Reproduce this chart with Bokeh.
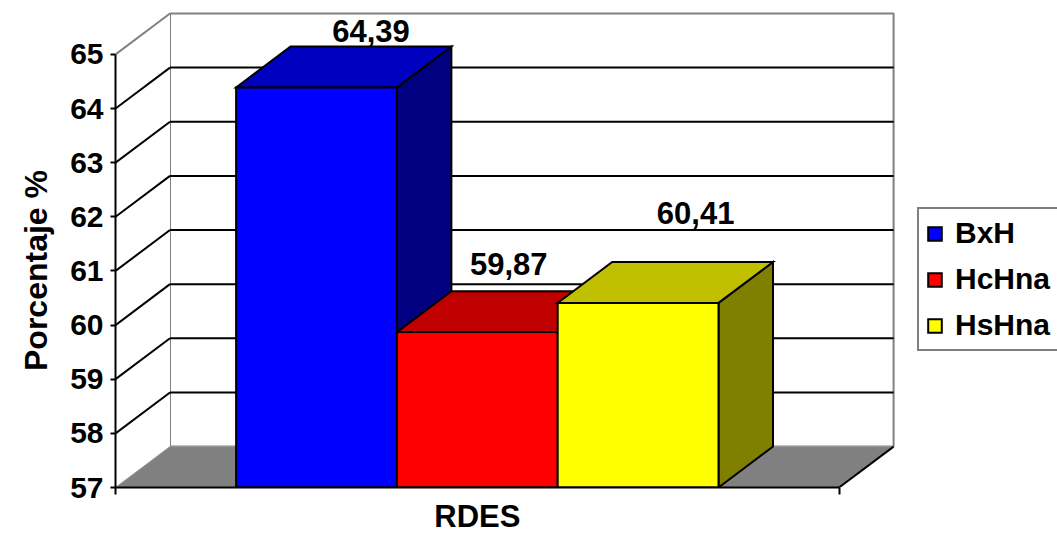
from bokeh.plotting import figure
from bokeh.models import ColumnDataSource, Legend, LegendItem, FixedTicker, Range1d, Title
from bokeh.core.properties import value
from bokeh.embed import file_html
from bokeh.resources import INLINE

# ---- data ----
category = "RDES"
y_title = "Porcentaje %"
series = ["BxH", "HcHna", "HsHna"]
percentages = [64.39, 59.87, 60.41]
value_labels = ["64,39", "59,87", "60,41"]
y_ticks = [57, 58, 59, 60, 61, 62, 63, 64, 65]

# ---- styling ----
front_colors = ["#0000FF", "#FF0000", "#FFFF00"]
top_colors = ["#0000C0", "#C00000", "#C0C000"]
side_colors = ["#000080", "#800000", "#808000"]
FONT_NAME = "Liberation Sans"
FONT = value(FONT_NAME)

W, H = 1057, 536
BORDER_L, BORDER_T, BORDER_B = 115, 5, 48
PX_PER_Y = 54.25          # pixels per percentage point
PX_PER_X = 160.8          # pixels per bar width
DEPTH_PX = (54.5, 41.0)   # oblique depth of the 3-D box, in pixels
GAP = 0.75                # space between axis and first bar, in bar widths
label_shift_px = [(0, -16), (-23, -27), (3, -49)]
# approximate rendered length of the two axis titles (bold, 31/32 px)
X_TITLE_LEN, Y_TITLE_LEN = 86, 201

n = len(percentages)
x_span = 2 * GAP + n      # width of the front plane
y0, y1 = y_ticks[0], y_ticks[-1]
DX = DEPTH_PX[0] / PX_PER_X
DY = DEPTH_PX[1] / PX_PER_Y
frame_w = W - BORDER_L
frame_h = H - BORDER_T - BORDER_B

p = figure(
    width=W, height=H,
    x_range=Range1d(0, frame_w / PX_PER_X),
    y_range=Range1d(y0, y0 + frame_h / PX_PER_Y),
    output_backend="svg", toolbar_location=None,
    min_border_left=BORDER_L, min_border_right=0,
    min_border_top=BORDER_T, min_border_bottom=BORDER_B,
)
p.outline_line_color = None
p.grid.visible = False
p.background_fill_color = "white"
p.border_fill_color = "white"

# ---- walls and floor ----
p.quad(left=DX, right=x_span + DX, bottom=y0 + DY, top=y1 + DY,
       fill_color="white", line_color="#808080", line_width=2)
p.patch([0, DX, DX, 0], [y0, y0 + DY, y1 + DY, y1],
        fill_color="white", line_color=None)
p.segment(x0=[0], y0=[y1], x1=[DX], y1=[y1 + DY], line_color="#808080", line_width=2)
p.patch([0, x_span, x_span + DX, DX], [y0, y0, y0 + DY, y0 + DY],
        fill_color="#808080", line_color="#9a9a9a", line_width=1)
p.segment(x0=[x_span], y0=[y0], x1=[x_span + DX], y1=[y0 + DY],
          line_color="black", line_width=2)

# gridlines: diagonal on the side wall, horizontal on the back wall
levels = y_ticks[1:-1]
p.segment(x0=[0] * len(levels), y0=levels,
          x1=[DX] * len(levels), y1=[v + DY for v in levels],
          line_color="black", line_width=2)
p.segment(x0=[DX] * len(levels), y0=[v + DY for v in levels],
          x1=[x_span + DX] * len(levels), y1=[v + DY for v in levels],
          line_color="black", line_width=2)

# ---- 3-D bars ----
lefts = [GAP + i for i in range(n)]
rights = [l + 1 for l in lefts]
xs, ys, colors = [], [], []
for l, r, v, tc, sc in zip(lefts, rights, percentages, top_colors, side_colors):
    xs.append([r, r + DX, r + DX, r]);  ys.append([y0, y0 + DY, v + DY, v]); colors.append(sc)
    xs.append([l, r, r + DX, l + DX]);  ys.append([v, v, v + DY, v + DY]);   colors.append(tc)
p.patches(xs=xs, ys=ys, fill_color=colors, line_color="black", line_width=2,
          line_join="miter")

bars = ColumnDataSource(dict(left=lefts, right=rights, top=percentages,
                             bottom=[y0] * n, color=front_colors, name=series))
front = p.quad(left="left", right="right", top="top", bottom="bottom", source=bars,
               fill_color="color", line_color="black", line_width=2, line_join="miter")

labels = ColumnDataSource(dict(
    x=[l + 0.5 + DX for l in lefts],
    y=[v + DY for v in percentages],
    text=value_labels,
    xo=[s[0] for s in label_shift_px],
    yo=[s[1] for s in label_shift_px],
))
p.text(x="x", y="y", text="text", x_offset="xo", y_offset="yo", source=labels,
       text_font=FONT, text_font_style="bold", text_font_size="31px",
       text_align="center", text_baseline="middle", text_color="black")

# ---- axes ----
yax = p.yaxis[0]
yax.ticker = FixedTicker(ticks=y_ticks)
yax.bounds = (y0, y1)
yax.axis_line_width = 2
yax.major_tick_line_width = 2
yax.major_tick_out = 5
yax.major_tick_in = 0
yax.minor_tick_line_color = None
yax.major_label_standoff = 7
yax.major_label_text_font = FONT_NAME
yax.major_label_text_font_style = "bold"
yax.major_label_text_font_size = "30px"
yax.major_label_text_color = "black"

xax = p.xaxis[0]
xax.ticker = FixedTicker(ticks=[0, x_span])
xax.bounds = (0, x_span)
xax.axis_line_width = 2
xax.major_tick_line_width = 2
xax.major_tick_out = 7
xax.major_tick_in = 0
xax.minor_tick_line_color = None
xax.major_label_overrides = {0: "", x_span: ""}
xax.major_label_standoff = 0

# axis titles, centred on the drawn extent of each axis
axis_mid_x = x_span * PX_PER_X / 2                 # from frame left
axis_mid_y = (y1 - y0) * PX_PER_Y / 2              # from frame bottom
p.add_layout(Title(
    text=category, align="left", offset=axis_mid_x - X_TITLE_LEN / 2, standoff=5,
    text_font=FONT_NAME, text_font_style="bold", text_font_size="31px",
    text_color="black",
), "below")
p.add_layout(Title(
    text=y_title, align="left", offset=axis_mid_y - Y_TITLE_LEN / 2, standoff=28,
    text_font=FONT_NAME, text_font_style="bold", text_font_size="32px",
    text_color="black",
), "left")

# ---- legend ----
legend = Legend(
    items=[LegendItem(label=s, renderers=[front], index=i) for i, s in enumerate(series)],
    location=(802, 136),
    glyph_width=17, glyph_height=17, label_standoff=12,
    label_height=30, spacing=12, padding=7, margin=0,
    label_text_font=FONT_NAME, label_text_font_style="bold",
    label_text_font_size="30px", label_text_color="black",
    border_line_color="black", border_line_width=2,
    background_fill_color="white", background_fill_alpha=1,
)
p.add_layout(legend)

open("out.html", "w").write(file_html(p, INLINE))
